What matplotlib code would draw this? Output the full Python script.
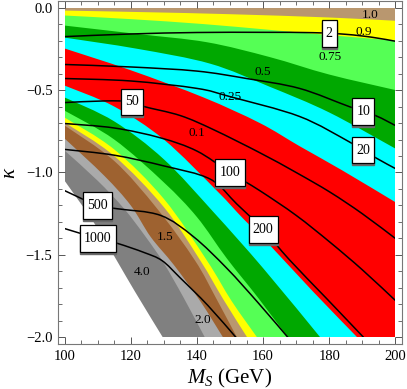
import matplotlib
matplotlib.use('Agg')
import matplotlib.pyplot as plt
import numpy as np
from matplotlib.transforms import offset_copy
from matplotlib.path import Path
from matplotlib.patches import PathPatch, Rectangle

plt.rcParams['font.family'] = ['Liberation Serif', 'DejaVu Serif']
plt.rcParams['mathtext.fontset'] = 'custom'
plt.rcParams['mathtext.rm'] = 'Liberation Serif'
plt.rcParams['mathtext.it'] = 'Liberation Serif:italic'

# ---------------- data ----------------
# Band boundaries, top to bottom (x = M_S in GeV, y = kappa)
b1_x = [100, 125, 150, 180, 200]
b1_y = [-0.018, -0.028, -0.040, -0.060, -0.080]          # tan / yellow
b2_x = [100, 120, 142, 162, 183, 200]
b2_y = [-0.048, -0.070, -0.100, -0.135, -0.172, -0.200]  # yellow / light green
b3_x = [100, 122, 143, 162, 180, 200]
b3_y = [-0.109, -0.160, -0.210, -0.300, -0.406, -0.500]  # light green / green
b4_x = [100, 122, 144, 162, 180, 200]
b4_y = [-0.182, -0.250, -0.340, -0.480, -0.636, -0.855]  # green / cyan
b5_x = [100, 120, 142, 159, 171, 184, 200]
b5_y = [-0.248, -0.380, -0.545, -0.700, -0.840, -0.988, -1.180]  # cyan / red
b6_x = [100, 115, 130, 146, 154, 162, 175, 188.5]
b6_y = [-0.473, -0.600, -0.800, -1.110, -1.280, -1.440, -1.720, -2.0]  # red / cyan
b7_x = [100, 115, 130, 145, 160, 177.3]
b7_y = [-0.545, -0.690, -0.920, -1.240, -1.580, -2.0]    # cyan / green
b8_x = [100, 115, 130, 140, 149, 158.5, 167.5]
b8_y = [-0.625, -0.800, -1.060, -1.270, -1.520, -1.760, -2.0]  # green / light green
b9_x = [100, 115, 130, 143, 150.5, 158.2]
b9_y = [-0.667, -0.860, -1.160, -1.533, -1.780, -2.0]    # light green / yellow
b10_x = [100, 115, 130, 141, 148, 155.2]
b10_y = [-0.697, -0.900, -1.210, -1.533, -1.770, -2.0]   # yellow / tan
b11_x = [100, 115, 128, 139.4, 146, 152.1]
b11_y = [-0.715, -0.930, -1.220, -1.533, -1.770, -2.0]   # tan / brown
b12_x = [100, 112, 120, 126, 133, 141, 147.9]
b12_y = [-0.794, -1.020, -1.200, -1.390, -1.560, -1.780, -2.0]   # brown / light gray
b13_x = [100, 110, 118, 124.5, 130, 136, 142.4]
b13_y = [-0.867, -1.050, -1.220, -1.390, -1.550, -1.760, -2.0]   # light gray / gray
b14_x = [100, 110, 121.2, 129.7]
b14_y = [-1.050, -1.340, -1.720, -2.0]                   # gray / white

# Black contour lines and their labels
line_labels = ['2', '10', '20', '50', '100', '200', '500', '1000']
l2_x = [100, 120, 140, 160, 175, 185, 193, 200]
l2_y = [-0.176, -0.160, -0.151, -0.150, -0.152, -0.162, -0.180, -0.204]
l10_x = [100, 120, 140, 155, 171, 186, 194, 200]
l10_y = [-0.345, -0.360, -0.385, -0.430, -0.490, -0.600, -0.655, -0.715]
l20_x = [100, 120, 140, 150, 171, 186.4, 193.9, 200]
l20_y = [-0.430, -0.445, -0.490, -0.540, -0.660, -0.818, -0.909, -0.976]
l50_x = [100, 112, 120, 124, 135, 145, 159, 170, 180.3, 190, 200]
l50_y = [-0.576, -0.566, -0.570, -0.600, -0.655, -0.740, -0.880, -1.000, -1.120, -1.250, -1.400]
l100_x = [100, 115, 129, 140, 150, 159, 170, 180.3, 190, 200]
l100_y = [-0.703, -0.730, -0.790, -0.870, -1.000, -1.110, -1.260, -1.424, -1.590, -1.776]
l200_x = [100, 115, 130, 144, 152, 160, 168, 179, 190.4]
l200_y = [-0.860, -0.895, -0.960, -1.040, -1.190, -1.345, -1.530, -1.760, -2.0]
l500_x = [100, 110, 116, 129, 139, 149, 158.5, 167.5]
l500_y = [-1.110, -1.200, -1.220, -1.260, -1.390, -1.580, -1.790, -2.0]
l1000_x = [100, 110, 116, 124, 129.5, 135, 143.3, 151.8]
l1000_y = [-1.340, -1.400, -1.430, -1.485, -1.535, -1.640, -1.806, -2.0]

x_ticks = [100, 120, 140, 160, 180, 200]
y_ticks = [-2.0, -1.5, -1.0, -0.5, 0.0]
y_tick_labels = ['\u22122.0', '\u22121.5', '\u22121.0', '\u22120.5', '0.0']

# ---------------- styling / layout ----------------
TAN = '#B9976F'
YEL = '#FFFF00'
LGR = '#55FF55'
GRN = '#00A800'
CYA = '#00FFFF'
RED = '#FF0000'
BRN = '#9E6230'
LGY = '#AAAAAA'
GRY = '#808080'
band_colors = [TAN, YEL, LGR, GRN, CYA, RED, CYA, GRN, LGR, YEL, TAN, BRN, LGY, GRY, 'white']

boundaries = [(b1_x, b1_y), (b2_x, b2_y), (b3_x, b3_y), (b4_x, b4_y), (b5_x, b5_y),
              (b6_x, b6_y), (b7_x, b7_y), (b8_x, b8_y), (b9_x, b9_y), (b10_x, b10_y),
              (b11_x, b11_y), (b12_x, b12_y), (b13_x, b13_y), (b14_x, b14_y)]
lines = [(l2_x, l2_y), (l10_x, l10_y), (l20_x, l20_y), (l50_x, l50_y),
         (l100_x, l100_y), (l200_x, l200_y), (l500_x, l500_y), (l1000_x, l1000_y)]
label_at_x = [180.0, 190.3, 190.3, 120.3, 150.0, 160.0, 110.0, 110.0]

band_text = [('1.0', 192.4, -0.045), ('0.9', 190.3, -0.150), ('0.75', 180.3, -0.300),
             ('0.5', 160.0, -0.390), ('0.25', 150.0, -0.545), ('0.1', 140.0, -0.760),
             ('1.5', 130.3, -1.394), ('4.0', 123.3, -1.606), ('2.0', 141.8, -1.897)]

X0, X1, Y0, Y1 = 100, 200, -2.0, 0.0


def smooth_verts(xs, ys):
    """Smooth drawing path (cubic Bezier) through the read points."""
    P = np.column_stack([xs, ys]).astype(float)
    n = len(P)
    verts = [P[0]]
    codes = [Path.MOVETO]
    for i in range(n - 1):
        p0 = P[i - 1] if i > 0 else P[i]
        p1, p2 = P[i], P[i + 1]
        p3 = P[i + 2] if i + 2 < n else P[i + 1]
        verts += [p1 + (p2 - p0) / 6.0, p2 - (p3 - p1) / 6.0, p2]
        codes += [Path.CURVE4] * 3
    return verts, codes


def label_box(x0, y0, width, height, mutation_size):
    """Rectangular label frame, taller than wide padding (like the original)."""
    px = 0.30 * mutation_size
    py = 0.48 * mutation_size
    x0, y0 = x0 - px, y0 - py
    x1, y1 = x0 + width + 2 * px, y0 + height + 2 * py
    return Path([(x0, y0), (x1, y0), (x1, y1), (x0, y1), (x0, y0)], closed=True)


W, H = 407, 389
fig = plt.figure(figsize=(W / 100, H / 100), dpi=100)
ax = fig.add_axes([58 / W, 45 / H, 344 / W, 343 / H])
clip = Rectangle((X0, Y0), X1 - X0, Y1 - Y0, transform=ax.transData)

ax.add_patch(Rectangle((X0, Y0), X1 - X0, Y1 - Y0, fc=band_colors[0], lw=0, zorder=1))
for (bx, by), col in zip(boundaries, band_colors[1:]):
    v, c = smooth_verts(bx, by)
    v = v + [(bx[-1], Y0), (bx[0], Y0), (bx[0], by[0])]
    c = c + [Path.LINETO, Path.LINETO, Path.CLOSEPOLY]
    p = PathPatch(Path(v, c), fc=col, ec='none', lw=0, zorder=1)
    ax.add_patch(p)
    p.set_clip_path(clip)

for lx, ly in lines:
    v, c = smooth_verts(lx, ly)
    p = PathPatch(Path(v, c), fill=False, ec='black', lw=1.1, zorder=3)
    ax.add_patch(p)
    p.set_clip_path(clip)

for txt, x, y in band_text:
    ax.text(x, y, txt, ha='center', va='center', fontsize=9.5, zorder=4)

shadow_tr = offset_copy(ax.transData, fig=fig, x=0.0, y=-1.4, units='points')
for txt, (lx, ly), xl in zip(line_labels, lines, label_at_x):
    yl = np.interp(xl, lx, ly)
    ax.text(xl, yl, txt, transform=shadow_tr, ha='center', va='center', fontsize=10,
            color='#6a6a6a', zorder=5,
            bbox=dict(boxstyle=label_box, fc='#6a6a6a', ec='#6a6a6a', lw=1))
    ax.text(xl, yl, txt, ha='center', va='center', fontsize=10, zorder=6,
            bbox=dict(boxstyle=label_box, fc='white', ec='black', lw=0.9))

ax.set_xlim(98, 202)
ax.set_ylim(-2.04, 0.04)
ax.set_xticks(x_ticks)
ax.set_yticks(y_ticks)
ax.set_yticklabels(y_tick_labels)
ax.set_xticks(np.arange(100, 201, 5), minor=True)
ax.set_yticks(np.arange(-2.0, 0.01, 0.1), minor=True)
ax.tick_params(which='both', direction='in', top=True, right=True, color='#555555',
               labelsize=10.5, pad=4)
ax.tick_params(which='major', length=5, width=0.7)
ax.tick_params(which='minor', length=3, width=0.6)
for s in ax.spines.values():
    s.set_color('#777777')
    s.set_linewidth(0.8)

ax.set_xlabel('$M_S$ (GeV)', fontsize=15, labelpad=3)
ax.set_ylabel('$\\kappa$', fontsize=15, labelpad=4)

fig.savefig('out.png', dpi=100)
